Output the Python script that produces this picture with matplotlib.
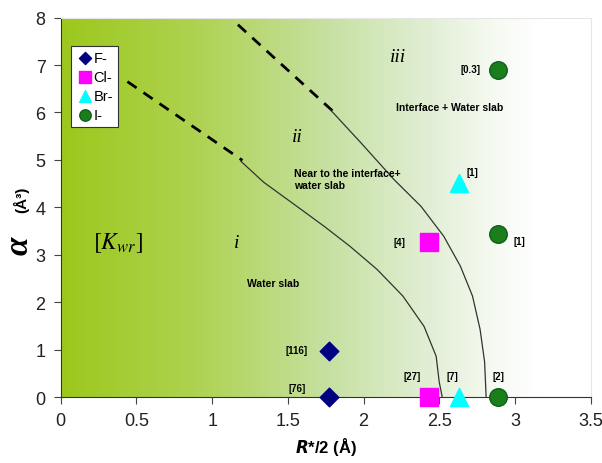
import matplotlib
matplotlib.use("Agg")
import matplotlib.pyplot as plt
import numpy as np
from matplotlib.colors import LinearSegmentedColormap

plt.rcParams['font.family'] = ['Liberation Sans', 'DejaVu Sans']

# ion data: R*/2 (A) and polarizability alpha (A^3)
f_x = [1.77, 1.77]
f_y = [0.0, 0.97]
cl_x = [2.43, 2.43]
cl_y = [0.0, 3.26]
br_x = [2.63, 2.63]
br_y = [0.0, 4.52]
i_x = [2.89, 2.89, 2.89]
i_y = [0.0, 3.44, 6.9]

# bracketed ratios
ratio_labels = ["[76]", "[116]", "[27]", "[4]", "[7]", "[1]", "[2]", "[1]", "[0.3]"]
ratio_x = [1.56, 1.56, 2.32, 2.24, 2.59, 2.72, 2.89, 3.03, 2.71]
ratio_y = [0.2, 1.0, 0.44, 3.26, 0.44, 4.75, 0.44, 3.28, 6.92]

# boundary curves (dashed part, then solid part)
b1_dash_x = [0.44, 1.2]
b1_dash_y = [6.65, 4.99]
b1_x = [1.19, 1.34, 1.56, 1.74, 1.91, 2.09, 2.26, 2.40, 2.48, 2.50, 2.52]
b1_y = [4.97, 4.53, 4.02, 3.60, 3.18, 2.69, 2.13, 1.49, 0.86, 0.32, 0.0]
b2_dash_x = [1.17, 1.80]
b2_dash_y = [7.85, 6.02]
b2_x = [1.78, 1.98, 2.20, 2.38, 2.53, 2.64, 2.72, 2.77, 2.80, 2.81]
b2_y = [6.06, 5.37, 4.59, 4.02, 3.39, 2.76, 2.13, 1.43, 0.74, 0.0]

fig = plt.figure(figsize=(6.02, 4.64), dpi=100)
ax = fig.add_axes([0.101, 0.142, 0.880, 0.818])

# green -> white gradient background
cmap = LinearSegmentedColormap.from_list(
    "bg", [(0.0, "#9cc81c"), (0.25, "#aed250"), (0.5, "#c6e0a0"),
           (0.7, "#e2efd6"), (0.82, "#f6faf2"), (0.9, "#ffffff"), (1.0, "#ffffff")])
grad = np.linspace(0, 1, 256).reshape(1, -1)
ax.imshow(grad, cmap=cmap, extent=[0, 3.5, 0, 8], aspect='auto', zorder=0)

ax.plot(b1_dash_x, b1_dash_y, color='black', ls=(0, (4, 3)), lw=2, zorder=2)
ax.plot(b1_x, b1_y, color='#333333', lw=0.9, zorder=2)
ax.plot(b2_dash_x, b2_dash_y, color='black', ls=(0, (4, 3)), lw=2, zorder=2)
ax.plot(b2_x, b2_y, color='#333333', lw=0.9, zorder=2)

ax.scatter(f_x, f_y, marker='D', s=90, color='#000080', label='F-', zorder=4, clip_on=False)
ax.scatter(cl_x, cl_y, marker='s', s=150, color='#ff00ff', label='Cl-', zorder=4, clip_on=False)
ax.scatter(br_x, br_y, marker='^', s=170, color='#00ffff', label='Br-', zorder=4, clip_on=False)
ax.scatter(i_x, i_y, marker='o', s=160, color='#1a7f1a', edgecolors='#0f5f20',
           label='I-', zorder=4, clip_on=False)

for lab, x, y in zip(ratio_labels, ratio_x, ratio_y):
    ax.text(x, y, lab, fontsize=7, fontweight='bold', ha='center', va='center', zorder=5)

ax.text(2.23, 7.18, "iii", fontsize=14, style='italic', family='Liberation Serif', ha='center', va='center')
ax.text(1.56, 5.5, "ii", fontsize=14, style='italic', family='Liberation Serif', ha='center', va='center')
ax.text(1.16, 3.25, "i", fontsize=14, style='italic', family='Liberation Serif', ha='center', va='center')
ax.text(0.38, 3.26, r"$\left[K_{wr}\right]$", fontsize=17, ha='center', va='center',
        math_fontfamily='stix')
ax.text(1.4, 2.4, "Water slab", fontsize=7.5, fontweight='bold', ha='center', va='center')
ax.text(1.54, 4.6, "Near to the interface+\nwater slab", fontsize=7.5, fontweight='bold',
        ha='left', va='center', linespacing=1.3)
ax.text(2.57, 6.12, "Interface + Water slab", fontsize=7.5, fontweight='bold',
        ha='center', va='center')

ax.set_xlim(0, 3.5)
ax.set_ylim(0, 8)
ax.set_xticks([0, 0.5, 1, 1.5, 2, 2.5, 3, 3.5])
ax.set_xticklabels(["0", "0.5", "1", "1.5", "2", "2.5", "3", "3.5"])
ax.set_yticks(range(0, 9))
ax.tick_params(direction='out', length=5, labelsize=13, color='#444444',
               labelcolor='#222222', pad=6)
for side in ['top', 'right']:
    ax.spines[side].set_color('#e6e6e6')
    ax.spines[side].set_linewidth(0.8)
for side in ['left', 'bottom']:
    ax.spines[side].set_color('#333333')

ax.set_xlabel(r"$\boldsymbol{R}$*/2 (Å)", fontsize=12, fontweight='bold', labelpad=4)

# y label: big bold italic alpha plus smaller unit
fig.text(0.031, 0.47, "α", fontsize=24, fontweight='bold', style='italic',
         family='Liberation Serif', rotation=90, ha='center', va='center')
fig.text(0.035, 0.57, "(Å³)", fontsize=11, fontweight='bold',
         rotation=90, ha='center', va='center')

leg = ax.legend(loc='upper left', bbox_to_anchor=(0.005, 0.945), fontsize=10.5,
                handletextpad=0.0, borderpad=0.35, labelspacing=0.35, handlelength=1.2,
                markerscale=0.65, fancybox=False, framealpha=1)
leg.get_frame().set_edgecolor('#333333')
leg.get_frame().set_linewidth(0.8)

fig.savefig("out.png", dpi=100)
